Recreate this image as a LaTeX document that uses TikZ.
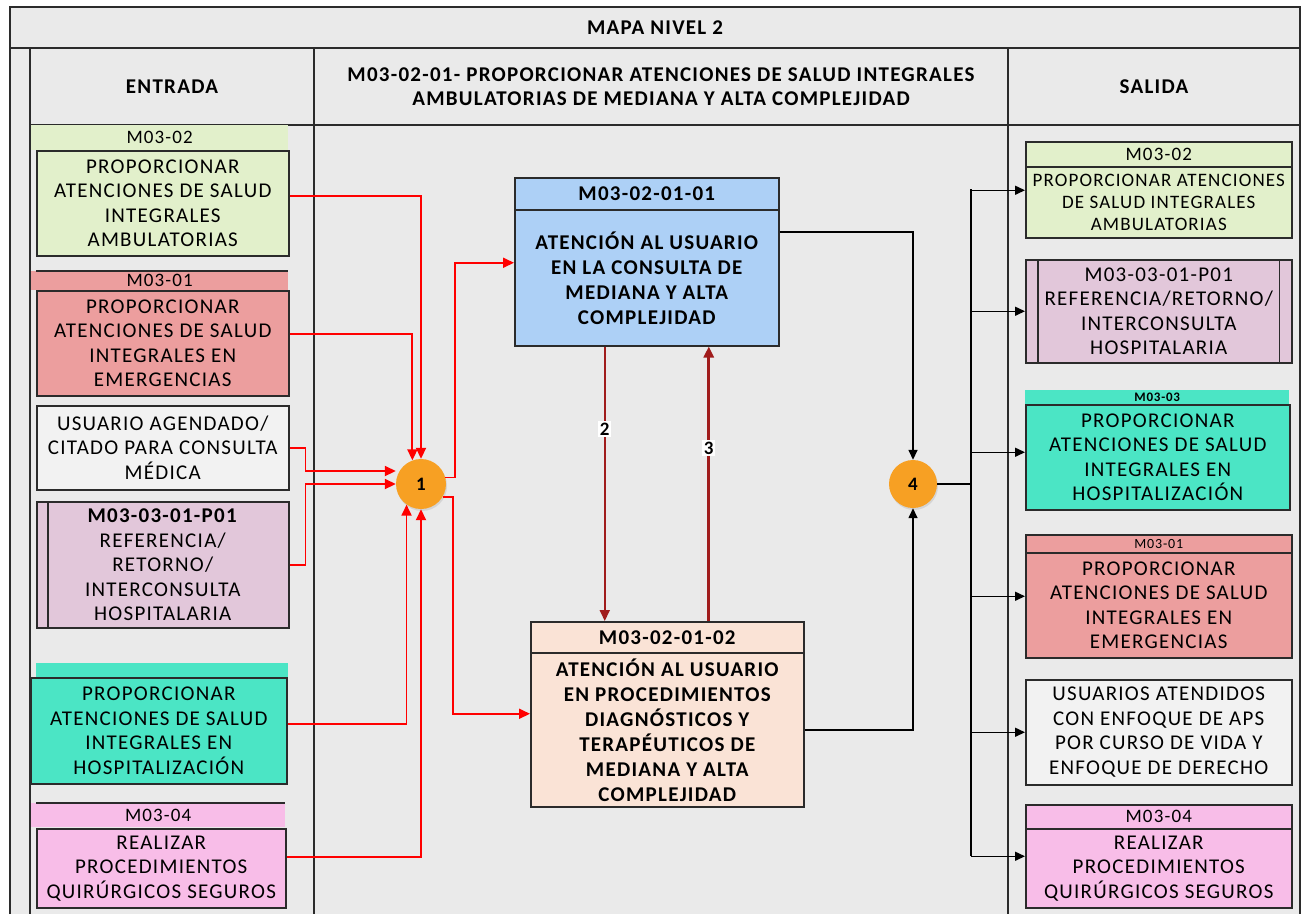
\documentclass[tikz,border=0pt]{standalone}
\usepackage{fontspec}
\setmainfont{Carlito}[LetterSpace=6]
\usepackage{tikz}
\usetikzlibrary{arrows.meta, shadows}
\definecolor{bggray}{HTML}{EAEAEA}
\definecolor{framegray}{HTML}{2B2B2B}
\definecolor{lgreen}{HTML}{E2F0CB}
\definecolor{salmon}{HTML}{EC9E9E}
\definecolor{lgray}{HTML}{F2F2F2}
\definecolor{lilac}{HTML}{E2C7DA}
\definecolor{aqua}{HTML}{4BE5C5}
\definecolor{lpink}{HTML}{F8BDE8}
\definecolor{lblue}{HTML}{ADD0F6}
\definecolor{peach}{HTML}{FAE3D6}
\definecolor{connorange}{HTML}{F7A023}
\definecolor{darkred2}{HTML}{A01C1C}
\tikzstyle{frameline} = [framegray, line width=1.8pt]
\tikzstyle{box} = [rectangle, draw=framegray, line width=1.5pt, inner sep=0pt, anchor=north west, align=center, font=\fontsize{21}{24.5}\selectfont]
\tikzstyle{band} = [rectangle, inner sep=0pt, anchor=north west, align=center, font=\fontsize{19}{20}\selectfont]
\tikzstyle{bandbox} = [band, draw=framegray, line width=1.5pt]
\tikzstyle{procbox} = [box, font=\bfseries\fontsize{21}{25}\selectfont]
\tikzstyle{connector} = [circle, fill=connorange, minimum size=50pt, inner sep=0pt, drop shadow={opacity=0.2, shadow xshift=1pt, shadow yshift=-2pt}, font=\bfseries\fontsize{19}{20}\selectfont]
\tikzstyle{hdr} = [align=center, font=\bfseries\fontsize{21}{24}\selectfont]
\tikzstyle{redarrow} = [red, line width=1.8pt, -{Triangle[length=11pt, width=10pt]}]
\tikzstyle{darkarrow} = [darkred2, line width=1.8pt, -{Triangle[length=11pt, width=10pt]}]
\tikzstyle{blackarrow} = [black, line width=1.5pt, -{Triangle[length=10pt, width=9pt]}]
\tikzstyle{blackline} = [black, line width=1.5pt]
\tikzstyle{numlabel} = [fill=white, inner sep=1.5pt, text=black, font=\bfseries\fontsize{19}{20}\selectfont]
\begin{document}
\begin{tikzpicture}[x=1pt, y=-1pt]
\useasboundingbox (0,0) rectangle (1303,914);
\fill[bggray] (10,7) rectangle (1300,914);
\draw[frameline] (10,914) -- (10,7) -- (1300,7) -- (1300,914);
\draw[frameline] (10,48) -- (1300,48);
\draw[frameline] (30,125) -- (1300,125);
\draw[frameline] (30,48) -- (30,914);
\draw[frameline] (314,48) -- (314,914);
\draw[frameline] (1008,48) -- (1008,914);

\node (title) [hdr] at (655,28) {MAPA NIVEL 2};
\node (hdrIn) [hdr] at (172,87) {ENTRADA};
\node (hdrMid) [hdr] at (661,87) {M03-02-01- PROPORCIONAR ATENCIONES DE SALUD INTEGRALES\\AMBULATORIAS DE MEDIANA Y ALTA COMPLEJIDAD};
\node (hdrOut) [hdr] at (1154,87) {SALIDA};

\node (inAmbHead) [band, fill=lgreen, minimum width=257pt, minimum height=25pt] at (31,125) {M03-02};
\node (inAmb) [box, fill=lgreen, minimum width=252pt, minimum height=105pt] at (36,150) {PROPORCIONAR\\ATENCIONES DE SALUD\\INTEGRALES\\AMBULATORIAS};
\node (inEmerHead) [band, fill=salmon, minimum width=257pt, minimum height=19pt] at (31,271) {M03-01};
\draw[framegray, line width=1.5pt] ([xshift=5pt]inEmerHead.north west) -- (inEmerHead.north east);
\node (inEmer) [box, fill=salmon, minimum width=252pt, minimum height=105pt] at (36,290) {PROPORCIONAR\\ATENCIONES DE SALUD\\INTEGRALES EN\\EMERGENCIAS};
\node (inUser) [box, fill=lgray, minimum width=252pt, minimum height=84pt] at (36,405) {USUARIO AGENDADO/\\CITADO PARA CONSULTA\\MÉDICA};
\node (inRef) [box, fill=lilac, minimum width=252pt, minimum height=126pt] at (36,501) {\textbf{M03-03-01-P01}\\REFERENCIA/\\RETORNO/\\INTERCONSULTA\\HOSPITALARIA};
\draw[framegray, line width=1.5pt] ([xshift=12pt]inRef.north west) -- ([xshift=12pt]inRef.south west);
\node (inHospHead) [band, fill=aqua, minimum width=252pt, minimum height=14pt] at (36,663) {};
\node (inHosp) [box, fill=aqua, minimum width=256pt, minimum height=106pt] at (30,677) {PROPORCIONAR\\ATENCIONES DE SALUD\\INTEGRALES EN\\HOSPITALIZACIÓN};
\node (inQxHead) [band, fill=lpink, minimum width=254pt, minimum height=24pt] at (31,803) {M03-04};
\draw[framegray, line width=1.5pt] ([xshift=5pt]inQxHead.north west) -- (inQxHead.north east);
\node (inQx) [box, fill=lpink, minimum width=249pt, minimum height=79pt] at (36,828) {REALIZAR\\PROCEDIMIENTOS\\QUIRÚRGICOS SEGUROS};

\node (consHead) [procbox, fill=lblue, minimum width=264pt, minimum height=32pt] at (514,177) {M03-02-01-01};
\node (cons) [procbox, fill=lblue, minimum width=264pt, minimum height=136pt] at (514,209) {ATENCIÓN AL USUARIO\\EN LA CONSULTA DE\\MEDIANA Y ALTA\\COMPLEJIDAD};
\node (procHead) [procbox, fill=peach, minimum width=273pt, minimum height=31pt] at (530,621) {M03-02-01-02};
\node (proc) [procbox, fill=peach, minimum width=273pt, minimum height=154pt] at (530,652) {ATENCIÓN AL USUARIO\\EN PROCEDIMIENTOS\\DIAGNÓSTICOS Y\\TERAPÉUTICOS DE\\MEDIANA Y ALTA\\COMPLEJIDAD};

\node (c1) [connector] at (421,484) {1};
\node (c4) [connector, minimum size=48pt] at (913,484) {4};

\node (outAmbHead) [bandbox, fill=lgreen, minimum width=266pt, minimum height=25pt] at (1025,141) {M03-02};
\node (outAmb) [box, fill=lgreen, minimum width=266pt, minimum height=71pt, font=\fontsize{19}{22}\selectfont] at (1025,166) {PROPORCIONAR ATENCIONES\\DE SALUD INTEGRALES\\AMBULATORIAS};
\node (outRef) [box, fill=lilac, minimum width=266pt, minimum height=103pt] at (1025,259) {M03-03-01-P01\\REFERENCIA/RETORNO/\\INTERCONSULTA\\HOSPITALARIA};
\draw[framegray, line width=1.5pt] ([xshift=13pt]outRef.north west) -- ([xshift=13pt]outRef.south west);
\draw[framegray, line width=1.5pt] ([xshift=-13pt]outRef.north east) -- ([xshift=-13pt]outRef.south east);
\node (outHospHead) [band, fill=aqua, minimum width=264pt, minimum height=14pt, font=\bfseries\fontsize{13}{14}\selectfont] at (1025,390) {M03-03};
\node (outHosp) [box, fill=aqua, minimum width=264pt, minimum height=105pt] at (1025,404) {PROPORCIONAR\\ATENCIONES DE SALUD\\INTEGRALES EN\\HOSPITALIZACIÓN};
\node (outEmerHead) [bandbox, fill=salmon, minimum width=266pt, minimum height=18pt, font=\fontsize{14}{15}\selectfont] at (1025,534) {M03-01};
\node (outEmer) [box, fill=salmon, minimum width=266pt, minimum height=105pt] at (1025,552) {PROPORCIONAR\\ATENCIONES DE SALUD\\INTEGRALES EN\\EMERGENCIAS};
\node (outUser) [box, fill=lgray, minimum width=266pt, minimum height=105pt] at (1025,679) {USUARIOS ATENDIDOS\\CON ENFOQUE DE APS\\POR CURSO DE VIDA Y\\ENFOQUE DE DERECHO};
\node (outQxHead) [bandbox, fill=lpink, minimum width=266pt, minimum height=24pt] at (1025,804) {M03-04};
\node (outQx) [box, fill=lpink, minimum width=266pt, minimum height=79pt] at (1025,828) {REALIZAR\\PROCEDIMIENTOS\\QUIRÚRGICOS SEGUROS};

\draw[redarrow] ([yshift=7pt]inAmb.east) -| (c1.north);
\draw[redarrow] ([yshift=9pt]inEmer.east) -| (c1.110);
\draw[redarrow] (inUser.east) -- ++(16,0) |- ([yshift=13pt]c1.west);
\draw[redarrow] (inRef.east) -- ++(16,0) |- (c1.west);
\draw[redarrow] ([yshift=7pt]inHosp.east) -| (c1.235);
\draw[redarrow] ([yshift=11pt]inQx.east) -| (c1.south);
\draw[redarrow] (c1.15) -- ++(10,0) |- ([yshift=15pt]cons.west);
\draw[redarrow] (c1.-30) -- ++(10,0) |- ([yshift=16pt]proc.west);

\draw[darkarrow] ([xshift=-42pt]cons.south) -- node[numlabel, pos=0.3] {2} ([xshift=-62.5pt]procHead.north);
\draw[darkarrow, line width=2.6pt] ([xshift=41.5pt]procHead.north) -- node[numlabel, pos=0.63] {3} ([xshift=62pt]cons.south);

\draw[blackarrow] ([yshift=46pt]cons.east) -| (c4.north);
\draw[blackarrow] (proc.east) -| (c4.south);
\coordinate (busTop) at (971,189);
\coordinate (busBot) at (971,856);
\draw[blackline] (busTop) -- (busBot);
\draw[blackline] (c4.east) -- (c4.east -| busTop);
\foreach \out/\dy in {outAmb/12, outRef/0, outHosp/5, outEmer/9, outUser/0, outQx/12}
  \draw[blackarrow] ([yshift=\dy pt]\out.west) ++(-54,0) -- ([yshift=\dy pt]\out.west);
\end{tikzpicture}
\end{document}
